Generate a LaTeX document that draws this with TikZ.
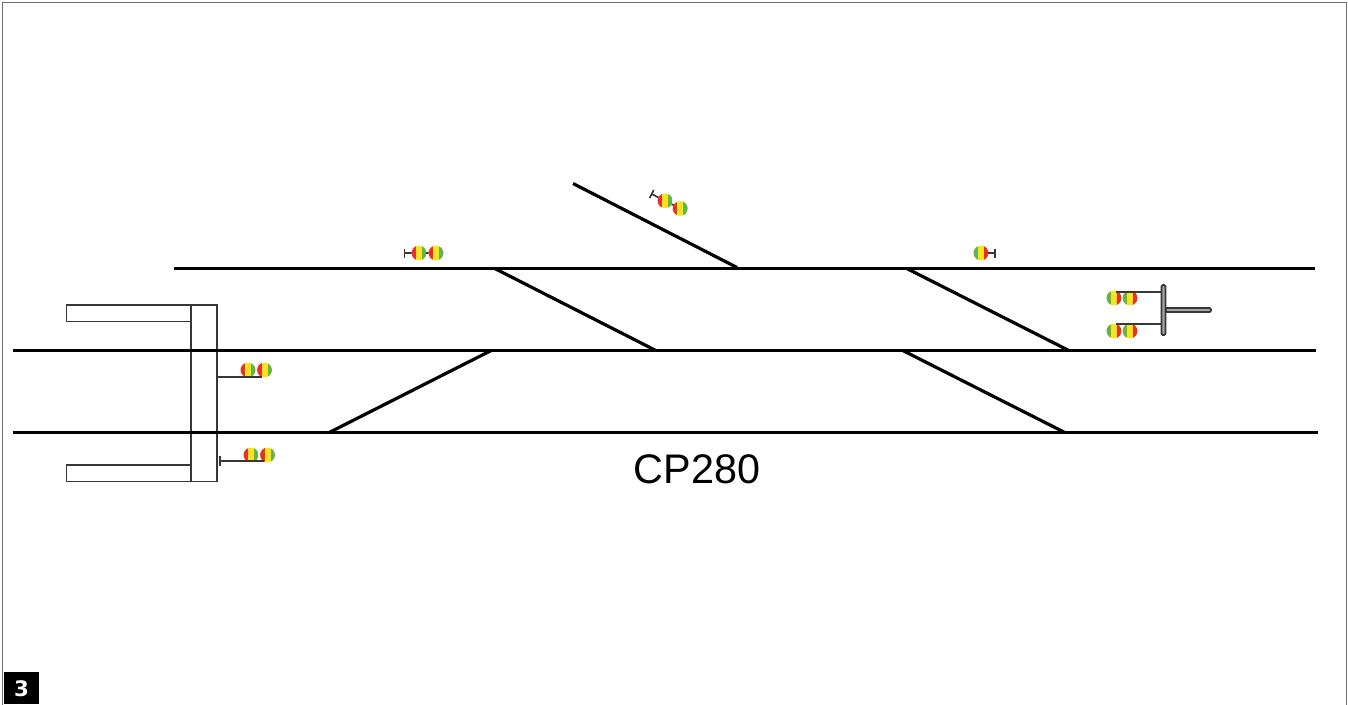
\documentclass[tikz,border=0pt]{standalone}
\usepackage{fontspec}
\setmainfont{Liberation Sans}
\newfontfamily\badgefont{DejaVu Sans}
\definecolor{sigred}{RGB}{237,45,40}
\definecolor{sigyellow}{RGB}{245,228,30}
\definecolor{siggreen}{RGB}{100,178,80}
\definecolor{framegray}{RGB}{110,110,110}
\definecolor{linegray}{RGB}{55,55,55}
\tikzset{
  track/.style={line width=2.4pt,black},
  thin outline/.style={line width=1.25pt,linegray},
  mast/.style={line width=1.25pt,linegray},
  rg/.pic={
    \begin{scope}
      \clip (0,0) circle (7.4);
      \fill[sigyellow] (-8,-8) rectangle (8,8);
      \fill[sigred] (-8,-8) rectangle (-3,8);
      \fill[siggreen] (3,-8) rectangle (8,8);
    \end{scope}
  },
  gr/.pic={
    \begin{scope}
      \clip (0,0) circle (7.4);
      \fill[sigyellow] (-8,-8) rectangle (8,8);
      \fill[siggreen] (-8,-8) rectangle (-3,8);
      \fill[sigred] (3,-8) rectangle (8,8);
    \end{scope}
  }
}
\begin{document}
\begin{tikzpicture}[x=0.75pt,y=-0.75pt]
\useasboundingbox (0,0) rectangle (1348,704);
\fill[white] (0,0) rectangle (1348,704);
\begin{scope}
\clip (0,0) rectangle (1348,704);
\draw[framegray,line width=1.1pt] (2.5,720) -- (2.5,2.5) -- (1346.5,2.5) -- (1346.5,720);
\end{scope}

% building
\draw[thin outline] (190.7,305) rectangle (216.7,481.5);
\draw[thin outline] (190.7,305) -- (66.5,305) -- (66.5,321.5) -- (190.7,321.5);
\draw[thin outline] (190.7,465) -- (66.5,465) -- (66.5,481.5) -- (190.7,481.5);

% tracks
\draw[track] (174,268.6) -- (1315,268.6);
\draw[track] (13,350.6) -- (1316,350.6);
\draw[track] (13,432.6) -- (1318,432.6);
\draw[track] (573,183.5) -- (737,267.5);
\draw[track] (495,268.6) -- (656,350.6);
\draw[track] (907,268.6) -- (1069,350.6);
\draw[track] (491,350.6) -- (329,432.6);
\draw[track] (903,350.6) -- (1065,432.6);

% signal: top left
\draw[mast] (404.5,248.5) -- (404.5,258);
\draw[mast] (404.5,253) -- (430,253);
\pic at (419,253) {rg};
\pic at (436,253) {rg};

% signal: on branch
\begin{scope}[shift={(651.7,194)},rotate=-27]
  \draw[mast] (0,-4.5) -- (0,4.5);
  \draw[mast] (0,0) -- (31,0);
  \pic at (15,0) {rg};
  \pic at (32,0) {rg};
\end{scope}

% signal: top right
\draw[mast] (995,248.5) -- (995,258);
\draw[mast] (981,253) -- (995,253);
\pic at (981,253) {gr};

% signal bridge
\pic at (1114,298) {gr};
\pic at (1130,298) {gr};
\pic at (1114,331) {gr};
\pic at (1130,331) {gr};
\draw[mast] (1116,291.7) -- (1161,291.7);
\draw[mast] (1116,324.1) -- (1161,324.1);
\draw[thin outline,fill=white!55!linegray,rounded corners=1] (1165.5,308) rectangle (1211,312);
\draw[thin outline,fill=white!55!linegray,rounded corners=1] (1161.5,285) rectangle (1165.5,335);

% signals left
\pic at (248,370) {rg};
\pic at (264.5,370) {rg};
\draw[mast] (216.7,377) -- (262,377);
\pic at (251,455) {rg};
\pic at (267.5,455) {rg};
\draw[mast] (220,456) -- (220,466);
\draw[mast] (220,461.2) -- (264,461.2);

% label
\node[font=\fontsize{31}{31}\selectfont,inner sep=0pt] (cp) at (697,469) {CP280};

% badge
\node[fill=black,text=white,minimum width=26pt,minimum height=24pt,inner sep=0pt,anchor=north west,font=\badgefont\bfseries\fontsize{16}{16}\selectfont] (badge) at (4,672) {3};
\end{tikzpicture}
\end{document}
